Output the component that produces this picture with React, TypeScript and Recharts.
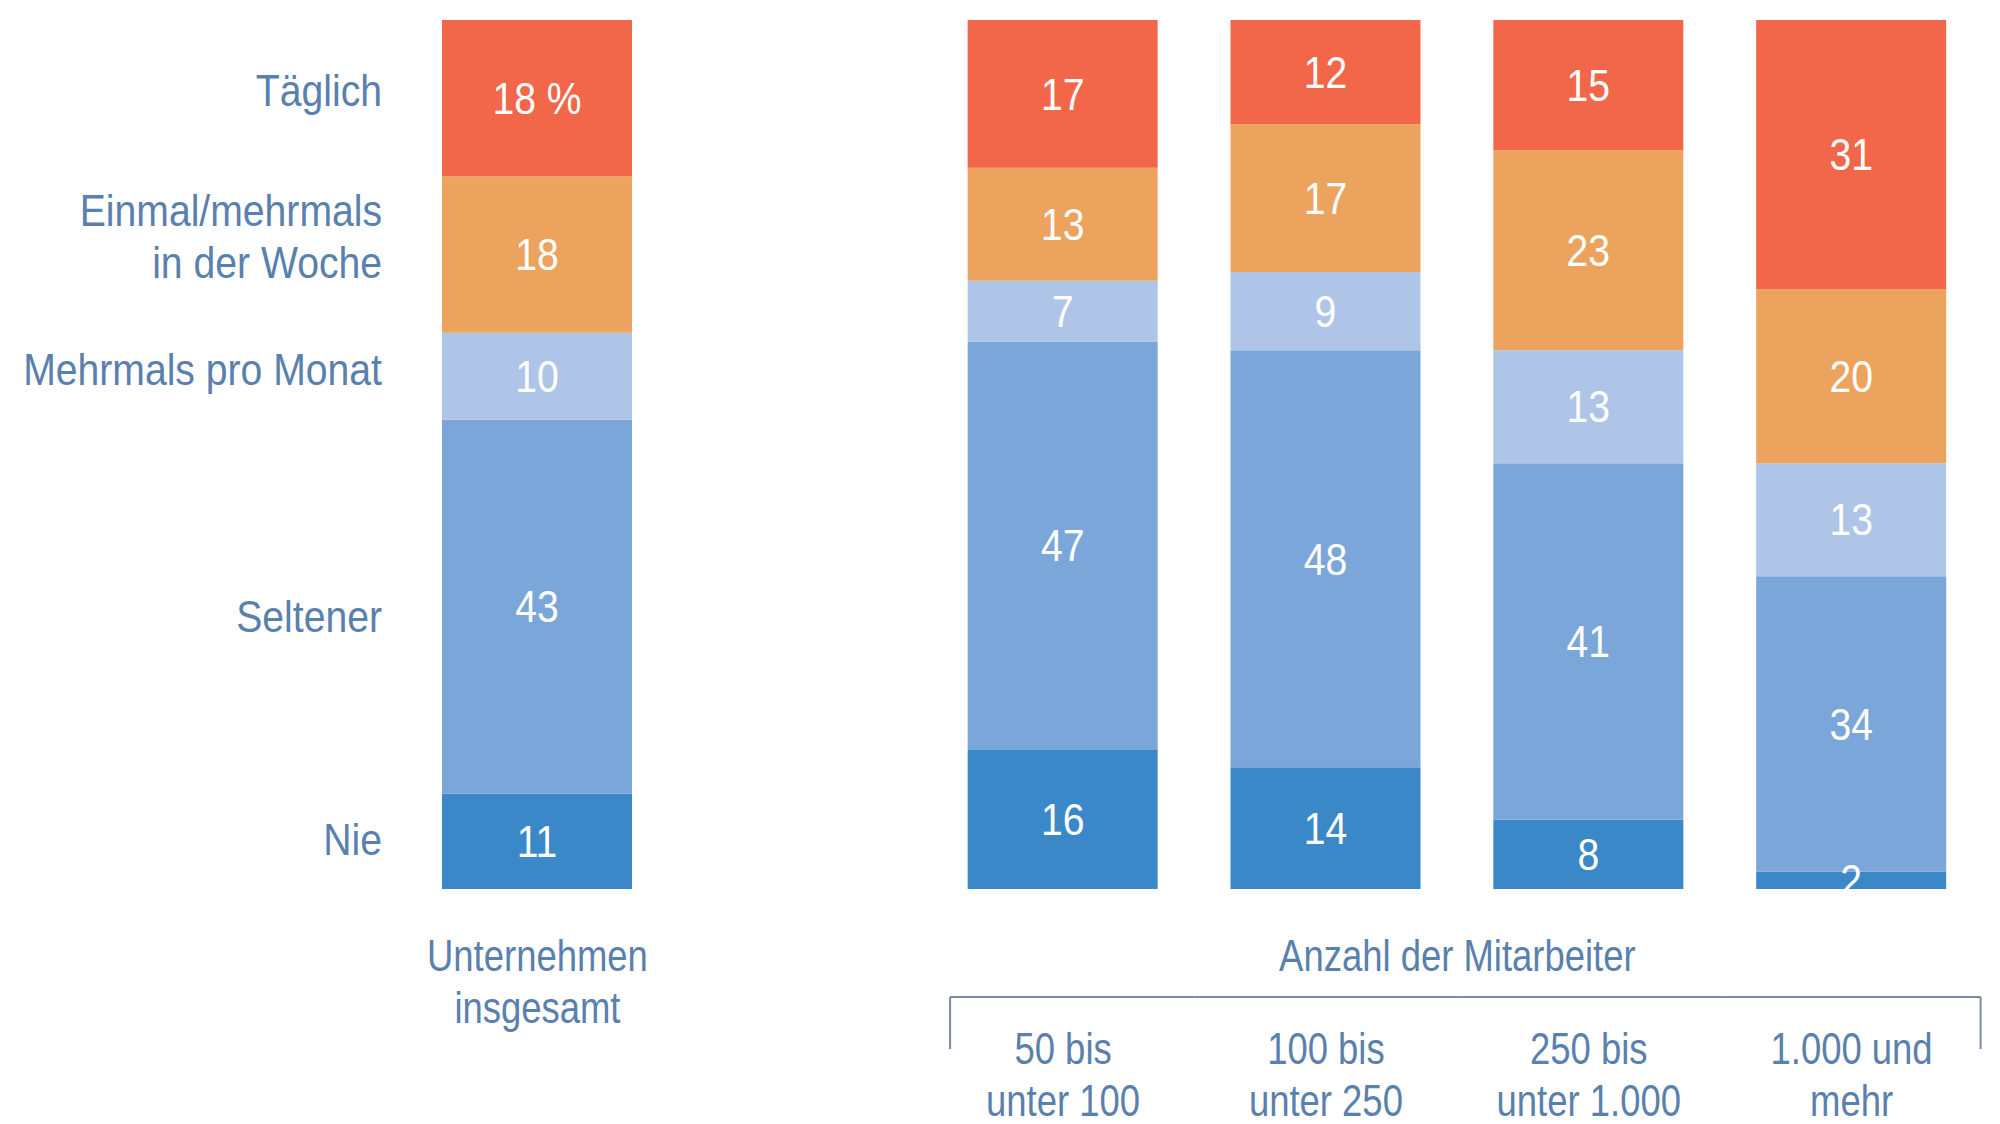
import { Bar, BarChart, LabelList, XAxis, YAxis } from 'recharts'

// Kategorien der x-Achse; die leere Kategorie schafft den Abstand zur Gruppe
const CATEGORIES = [
  'Unternehmen\ninsgesamt',
  '',
  '50 bis\nunter 100',
  '100 bis\nunter 250',
  '250 bis\nunter 1.000',
  '1.000 und\nmehr',
]
const GROUP_TITLE = 'Anzahl der Mitarbeiter'

// Reihen von unten nach oben gestapelt (Angaben in Prozent)
const SERIES_NAMES = [
  'Nie',
  'Seltener',
  'Mehrmals pro Monat',
  'Einmal/mehrmals\nin der Woche',
  'Täglich',
]
const NIE = [11, null, 16, 14, 8, 2]
const SELTENER = [43, null, 47, 48, 41, 34]
const MONATLICH = [10, null, 7, 9, 13, 13]
const WOECHENTLICH = [18, null, 13, 17, 23, 20]
const TAEGLICH = [18, null, 17, 12, 15, 31]

const SERIES = [NIE, SELTENER, MONATLICH, WOECHENTLICH, TAEGLICH]
const KEYS = ['nie', 'seltener', 'monatlich', 'woechentlich', 'taeglich']
const COLORS = ['#3b88c9', '#7ba6d9', '#aec5e8', '#eca35e', '#f2664a']

const data = CATEGORIES.map((name, i) => {
  const row: Record<string, string | number | null> = { name }
  KEYS.forEach((k, s) => {
    row[k] = SERIES[s][i]
  })
  return row
})

const WIDTH = 2000
const HEIGHT = 1124
const MARGIN = { top: 20, right: 17, left: 406, bottom: 0 }
const BAND = (WIDTH - MARGIN.left - MARGIN.right) / CATEGORIES.length
const FONT = "'Liberation Sans', Arial, sans-serif"
const TEXT_COLOR = '#5a80ad'
const BRACKET_COLOR = '#7d87a8'
const FONT_SIZE = 45
const LINE = 52
// schmal laufende Schrift nachbilden
const SQUEEZE = 0.87
const AXIS_SQUEEZE = 0.81
// Zeilenversatz der Reihennamen links neben der ersten Säule
const NAME_SHIFT = [0, 12, -5, -16, -6]

function Squeezed({
  x,
  y,
  lines,
  anchor = 'middle',
  fill = TEXT_COLOR,
  firstDy = 0,
  squeeze = SQUEEZE,
}: {
  x: number
  y: number
  lines: string[]
  anchor?: 'start' | 'middle' | 'end'
  fill?: string
  firstDy?: number | string
  squeeze?: number
}) {
  return (
    <g transform={`translate(${x},${y}) scale(${squeeze},1)`}>
      <text x={0} y={0} textAnchor={anchor} fill={fill} fontSize={FONT_SIZE} fontFamily={FONT}>
        {lines.map((l, i) => (
          <tspan key={i} x={0} dy={i === 0 ? firstDy : LINE}>
            {l}
          </tspan>
        ))}
      </text>
    </g>
  )
}

function CategoryTick(props: any) {
  const { x, y, payload } = props
  const value = String(payload.value ?? '')
  const index = CATEGORIES.indexOf(value)
  if (!value) return <g />
  const grouped = index >= 2
  const first = grouped ? 175 : 82
  const lineY = y + 108
  const dropY = y + 160
  let left = x - BAND / 2
  let right = x + BAND / 2
  if (index === 2) left = x - 113
  if (index === CATEGORIES.length - 1) right = x + 129
  return (
    <g>
      <Squeezed x={x} y={y} lines={value.split('\n')} firstDy={first} squeeze={AXIS_SQUEEZE} />
      {grouped && (
        <g stroke={BRACKET_COLOR} strokeWidth={2} fill="none">
          <line x1={left} y1={lineY} x2={right} y2={lineY} />
          {index === 2 && <line x1={left} y1={lineY} x2={left} y2={dropY} />}
          {index === CATEGORIES.length - 1 && <line x1={right} y1={lineY} x2={right} y2={dropY} />}
        </g>
      )}
      {index === 3 && (
        <Squeezed x={x + BAND / 2} y={y} lines={[GROUP_TITLE]} firstDy={82} squeeze={AXIS_SQUEEZE} />
      )}
    </g>
  )
}

function valueLabel(seriesIndex: number) {
  return (props: any) => {
    const { x, y, width, height, value, index } = props
    if (value == null) return null
    const cx = x + width / 2
    const cy = y + height / 2
    const showPercent = index === 0 && seriesIndex === SERIES.length - 1
    const name = SERIES_NAMES[seriesIndex].split('\n')
    return (
      <g>
        <Squeezed
          x={cx}
          y={cy}
          lines={[showPercent ? `${value} %` : String(value)]}
          fill="#ffffff"
          firstDy="0.35em"
        />
        {index === 0 && (
          <Squeezed
            x={x - 60}
            y={cy - ((name.length - 1) * LINE) / 2 + NAME_SHIFT[seriesIndex] - 2}
            lines={name}
            anchor="end"
            firstDy="0.35em"
          />
        )}
      </g>
    )
  }
}

export default function App() {
  return (
    <div style={{ width: WIDTH, height: HEIGHT, background: '#ffffff' }}>
      <style>{'body{margin:0}'}</style>
      <BarChart width={WIDTH} height={HEIGHT} data={data} margin={MARGIN}>
        <XAxis
          dataKey="name"
          axisLine={false}
          tickLine={false}
          tickSize={0}
          tickMargin={0}
          interval={0}
          height={235}
          tick={<CategoryTick />}
        />
        <YAxis hide domain={[0, 100]} />
        {KEYS.map((k, s) => (
          <Bar key={k} dataKey={k} stackId="a" fill={COLORS[s]} barSize={190} isAnimationActive={false}>
            <LabelList dataKey={k} content={valueLabel(s)} />
          </Bar>
        ))}
      </BarChart>
    </div>
  )
}
